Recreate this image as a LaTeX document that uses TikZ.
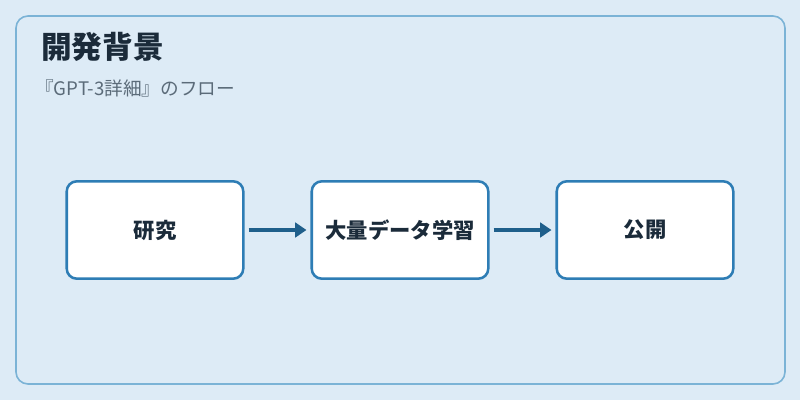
\documentclass[tikz,border=0pt]{standalone}
\usepackage{fontspec}
\setmainfont{Noto Sans CJK JP}
\usepackage{tikz}
\usepackage{xcolor}
\usetikzlibrary{positioning,arrows.meta}

\definecolor{bgblue}{HTML}{DDEBF6}
\definecolor{frameblue}{HTML}{7BB3D6}
\definecolor{boxblue}{HTML}{2E7DB5}
\definecolor{arrowblue}{HTML}{1F5F8B}
\definecolor{titleink}{HTML}{1B2B3A}
\definecolor{subink}{HTML}{5B6B79}

\begin{document}
\begin{tikzpicture}[x=0.75pt,y=-0.75pt,
  stepbox/.style={draw=boxblue,line width=1.9pt,fill=white,rounded corners=7.5pt,
    minimum width=132.4pt,minimum height=73pt,inner sep=0pt,
    font=\fontsize{16}{19}\selectfont\bfseries,text=titleink},
  flow/.style={arrowblue,line width=2.5pt,-{Triangle[length=8.5pt,width=11pt]}}]
\useasboundingbox (0,0) rectangle (800,400);
\fill[bgblue] (0,0) rectangle (800,400);
\draw[frameblue,line width=1.2pt,rounded corners=9pt] (16,16) rectangle (785,384);
\node[anchor=base west,inner sep=0pt,text=titleink,font=\fontsize{23}{27}\selectfont\bfseries] (title) at (41,58) {開発背景};
\node[anchor=base west,inner sep=0pt,text=subink,font=\fontsize{14}{17}\selectfont] (subtitle) at (35,95) {『GPT-3詳細』のフロー};
\node[stepbox] (research) at (155,230) {研究};
\node[stepbox] (training) at (400,230) {大量データ学習};
\node[stepbox] (release) at (645,230) {公開};
\draw[flow] ([xshift=3pt]research.east) -- ([xshift=-3pt]training.west);
\draw[flow] ([xshift=3pt]training.east) -- ([xshift=-3pt]release.west);
\end{tikzpicture}
\end{document}
